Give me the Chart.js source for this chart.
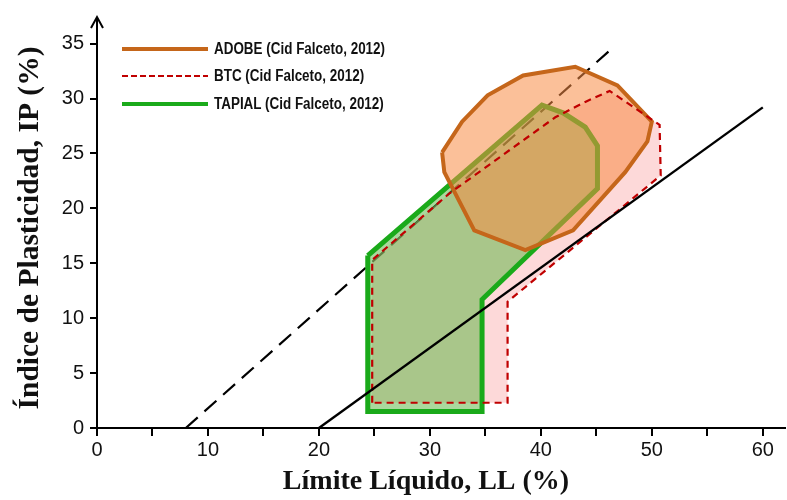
<!DOCTYPE html>
<html>
<head>
<meta charset="utf-8">
<script src="https://cdn.jsdelivr.net/npm/chart.js@4.4.1/dist/chart.umd.min.js"></script>
<style>
  body { margin: 0; background: #fff; }
  #wrap { position: relative; width: 787px; height: 500px; }
  .leg-line { position: absolute; left: 122px; width: 86px; }
  .leg-text { position: absolute; left: 214px; font: bold 16px "Liberation Sans", Arial, sans-serif; color: #111; line-height: 18px; white-space: nowrap; transform: scaleX(0.84); transform-origin: left center; }
</style>
</head>
<body>
<div id="wrap">
  <canvas id="chart" width="787" height="500"></canvas>
  <div class="leg-line" style="top:47px;height:4px;background:#c5661a;"></div>
  <div class="leg-text" style="top:40px;">ADOBE (Cid Falceto, 2012)</div>
  <div class="leg-line" style="top:75px;height:2px;background:repeating-linear-gradient(to right,#c00000 0 6px,transparent 6px 9px);"></div>
  <div class="leg-text" style="top:67px;">BTC (Cid Falceto, 2012)</div>
  <div class="leg-line" style="top:102px;height:4px;background:#1aaa1a;"></div>
  <div class="leg-text" style="top:95px;">TAPIAL (Cid Falceto, 2012)</div>
</div>
<script>
// rectas de Casagrande
var aLineLL = [20, 60];
var aLineIP = [0, 29.2];
var uLineLL = [8, 46.5];
var uLineIP = [0, 34.65];

// zonas (Cid Falceto, 2012)
var adobeLL = [31.1, 31.3, 34.0, 38.6, 42.9, 47.6, 49.6, 50.0, 46.9, 43.1, 38.4, 35.2, 32.9];
var adobeIP = [25.1, 23.3, 18.0, 16.2, 18.0, 23.3, 26.1, 27.9, 31.2, 32.9, 32.1, 30.3, 27.9];
var btcLL = [24.8, 24.8, 31.8, 41.3, 44.0, 46.2, 50.7, 50.8, 37.0, 37.0];
var btcIP = [2.3, 15.3, 21.4, 28.3, 29.7, 30.7, 27.6, 23.0, 11.5, 2.3];
var tapialLL = [24.4, 40.1, 42.0, 44.0, 45.1, 45.1, 34.7, 34.7, 24.4];
var tapialIP = [15.7, 29.4, 28.7, 27.4, 25.7, 21.8, 11.7, 1.5, 1.5];

var xTicks = [0, 5, 10, 15, 20, 25, 30, 35, 40, 45, 50, 55, 60];
var yTicks = [0, 5, 10, 15, 20, 25, 30, 35];

function puntos(xs, ys, cerrar) {
    var pts = [];
    for (var i = 0; i < xs.length; i++) {
        pts.push({ x: xs[i], y: ys[i] });
    }
    if (cerrar) pts.push({ x: xs[0], y: ys[0] });
    return pts;
}

var extras = {
    id: 'extras',
    afterDraw: function (chart) {
        var ctx = chart.ctx;
        var area = chart.chartArea;
        ctx.save();
        // flecha del eje Y
        ctx.strokeStyle = '#000';
        ctx.lineWidth = 2;
        ctx.beginPath();
        ctx.moveTo(area.left - 6, area.top + 10);
        ctx.lineTo(area.left, area.top - 1);
        ctx.lineTo(area.left + 6, area.top + 10);
        ctx.stroke();
        // titulos
        ctx.fillStyle = '#111';
        ctx.font = 'bold 28px "Liberation Serif", "Times New Roman", serif';
        ctx.textAlign = 'center';
        ctx.textBaseline = 'middle';
        ctx.fillText('Límite Líquido, LL (%)', 426, 482);
        ctx.font = 'bold 29.5px "Liberation Serif", "Times New Roman", serif';
        ctx.translate(30, 228);
        ctx.rotate(-Math.PI / 2);
        ctx.fillText('Índice de Plasticidad, IP (%)', 0, 0);
        ctx.restore();
    }
};

var ctx = document.getElementById('chart').getContext('2d');
var myChart = new Chart(ctx, {
    type: 'line',
    data: {
        datasets: [{
            label: 'A',
            data: puntos(aLineLL, aLineIP, false),
            borderColor: '#000',
            borderWidth: 2.4,
            fill: false,
            order: 0
        }, {
            label: 'BTC borde',
            data: puntos(btcLL, btcIP, true),
            borderColor: '#c00000',
            borderWidth: 2.2,
            borderDash: [7, 5],
            fill: false,
            order: 1
        }, {
            label: 'ADOBE',
            data: puntos(adobeLL, adobeIP, true),
            borderColor: '#c5661a',
            backgroundColor: 'rgba(248,140,70,0.55)',
            borderWidth: 4,
            fill: 'shape',
            order: 2
        }, {
            label: 'TAPIAL',
            data: puntos(tapialLL, tapialIP, true),
            borderColor: '#1aaa1a',
            backgroundColor: 'rgba(85,180,60,0.5)',
            borderWidth: 5,
            fill: 'shape',
            order: 3
        }, {
            label: 'BTC',
            data: puntos(btcLL, btcIP, true),
            borderColor: 'rgba(0,0,0,0)',
            backgroundColor: 'rgba(250,170,170,0.45)',
            borderWidth: 0,
            fill: 'shape',
            order: 4
        }, {
            label: 'U',
            data: puntos(uLineLL, uLineIP, false),
            borderColor: '#000',
            borderWidth: 2.2,
            borderDash: [16, 9],
            fill: false,
            order: 5
        }]
    },
    options: {
        responsive: false,
        animation: false,
        layout: { padding: { top: 12, right: 2, left: 0, bottom: 0 } },
        elements: {
            point: { radius: 0, hoverRadius: 0 },
            line: { tension: 0, borderJoinStyle: 'miter' }
        },
        plugins: {
            legend: { display: false },
            tooltip: { enabled: false }
        },
        scales: {
            x: {
                type: 'linear',
                min: 0,
                max: 62,
                afterBuildTicks: function (scale) {
                    scale.ticks = xTicks.map(function (v) { return { value: v }; });
                },
                afterFit: function (scale) { scale.height = 72; },
                ticks: {
                    color: '#111',
                    padding: 2,
                    font: { family: '"Liberation Sans", Arial, sans-serif', size: 20 },
                    callback: function (v) { return v % 10 === 0 ? v : ''; }
                },
                grid: { drawOnChartArea: false, color: '#000', lineWidth: 2, tickLength: 8 },
                border: { color: '#000', width: 2 }
            },
            y: {
                type: 'linear',
                min: 0,
                max: 37.34,
                afterBuildTicks: function (scale) {
                    scale.ticks = yTicks.map(function (v) { return { value: v }; });
                },
                afterFit: function (scale) { scale.width = 97; },
                ticks: {
                    color: '#111',
                    padding: 6,
                    font: { family: '"Liberation Sans", Arial, sans-serif', size: 20 }
                },
                grid: { drawOnChartArea: false, color: '#000', lineWidth: 2, tickLength: 7 },
                border: { color: '#000', width: 2 }
            }
        }
    },
    plugins: [extras]
});
</script>
</body>
</html>
